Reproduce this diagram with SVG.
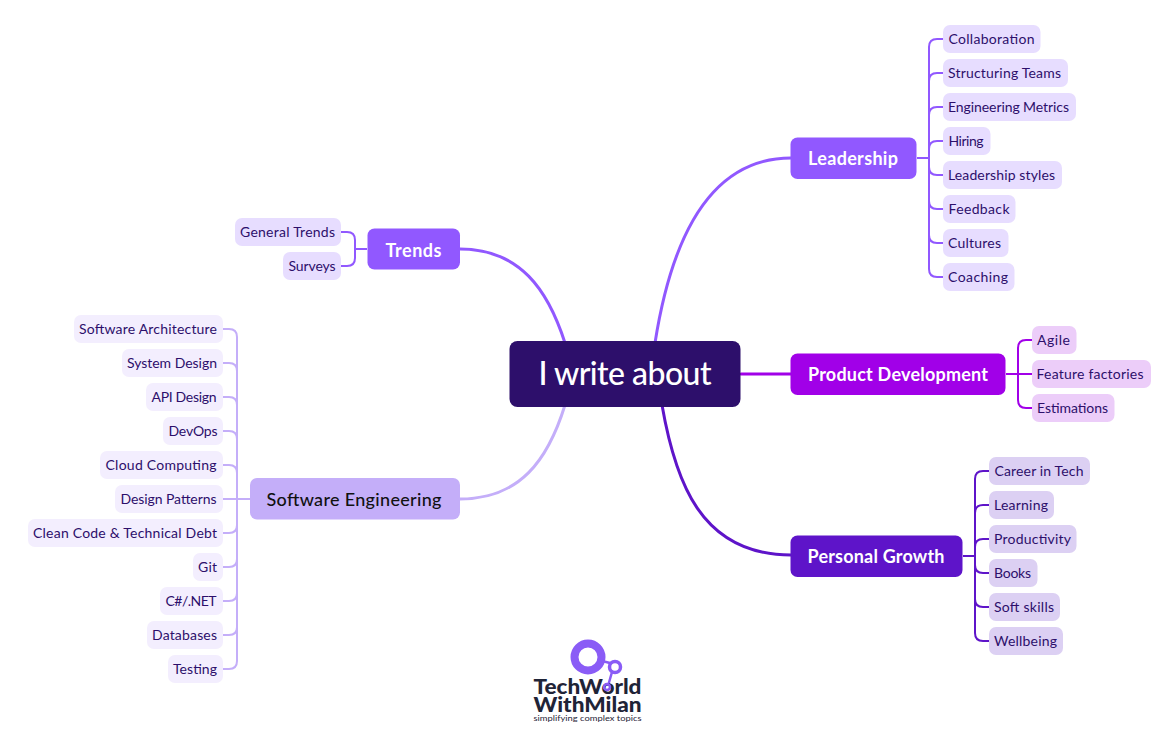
<svg xmlns="http://www.w3.org/2000/svg" width="1174" height="755" viewBox="0 0 1174 755">
<style>
text{font-family:"Lato","Noto Sans",sans-serif;text-anchor:middle;dominant-baseline:central}
.c{fill:none;stroke-width:3;stroke-linecap:round}
.c2{fill:none;stroke-width:2}
.leaf{font-size:14px;fill:#2d0f6b}
.main{font-size:18px;font-weight:700;fill:#fff}
.p{stroke:#9158ff}.m{stroke:#a100e8}.d{stroke:#5e14c9}.l{stroke:#c4aef9}
.fp{fill:#e7ddff}.fm{fill:#eccdf9}.fd{fill:#dcd0f3}.fl{fill:#f3eefe}
</style>
<rect width="1174" height="755" fill="#fff"/>
<g id="connectors">
<path class="c p" d="M655 343C668 260 700 158 791 158"/>
<path class="c m" d="M741 374H791"/>
<path class="c d" d="M662 405C675 480 700 555 791 555"/>
<path class="c p" d="M565 343C548 290 520 249 460 249"/>
<path class="c l" d="M565 405C548 460 520 499 460 499"/>
<g class="c2 p"><path d="M917 158H929M943 39H937Q929 39 929 47V269Q929 277 937 277H943M943 73H937Q929 73 929 81M943 107H937Q929 107 929 115M943 141H937Q929 141 929 149M943 175H937Q929 175 929 167M943 209H937Q929 209 929 201M943 243H937Q929 243 929 235"/></g>
<g class="c2 m"><path d="M1006 374H1018M1032 340H1026Q1018 340 1018 348V400Q1018 408 1026 408H1032M1018 374H1032"/></g>
<g class="c2 d"><path d="M963 556H975M989 471H983Q975 471 975 479V633Q975 641 983 641H989M989 505H983Q975 505 975 513M989 539H983Q975 539 975 547M989 573H983Q975 573 975 565M989 607H983Q975 607 975 599"/></g>
<g class="c2 p"><path d="M367 249H355M341 232H347Q355 232 355 240V258Q355 266 347 266H341"/></g>
<g class="c2 l"><path d="M250 499H223M223 329H229Q237 329 237 337V661Q237 669 229 669H223M223 363H229Q237 363 237 371M223 397H229Q237 397 237 405M223 431H229Q237 431 237 439M223 465H229Q237 465 237 473M223 533H229Q237 533 237 525M223 567H229Q237 567 237 559M223 601H229Q237 601 237 593M223 635H229Q237 635 237 627"/></g>
</g>
<g id="root"><rect x="509.500" y="341" width="231" height="66" rx="8" fill="#2d0f6b"/><text x="625" y="372" font-size="32" font-weight="500" fill="#fff" textLength="173">I write about</text></g>
<g id="leadership"><rect x="790.500" y="137.500" width="126" height="41.500" rx="7" fill="#9158ff"/><text class="main" x="853" y="158" textLength="90">Leadership</text></g>
<g id="trends"><rect x="367.500" y="228.500" width="92.500" height="41" rx="7" fill="#9158ff"/><text class="main" x="413.500" y="249.500" textLength="56">Trends</text></g>
<g id="product"><rect x="790.500" y="353.500" width="215" height="41.500" rx="7" fill="#a100e8"/><text class="main" x="898" y="374" textLength="180">Product Development</text></g>
<g id="growth"><rect x="790.500" y="535.500" width="172" height="41.500" rx="7" fill="#5e14c9"/><text class="main" x="876" y="556" textLength="137">Personal Growth</text></g>
<g id="software"><rect x="250" y="478" width="210" height="41.500" rx="7" fill="#c4aef9"/><text x="354" y="499" font-size="18" font-weight="500" fill="#111" textLength="175">Software Engineering</text></g>

<g id="l1"><rect class="fp" x="943" y="25" width="97.500" height="28" rx="7"/><text class="leaf" x="991.500" y="38" textLength="86">Collaboration</text></g>
<g id="l2"><rect class="fp" x="943" y="59" width="125" height="28" rx="7"/><text class="leaf" x="1004.500" y="72" textLength="113">Structuring Teams</text></g>
<g id="l3"><rect class="fp" x="943" y="93" width="133" height="28" rx="7"/><text class="leaf" x="1008.500" y="106" textLength="121">Engineering Metrics</text></g>
<g id="l4"><rect class="fp" x="943" y="127" width="47.500" height="28" rx="7"/><text class="leaf" x="966" y="140" textLength="35">Hiring</text></g>
<g id="l5"><rect class="fp" x="943" y="161" width="119" height="28" rx="7"/><text class="leaf" x="1001.500" y="174" textLength="107">Leadership styles</text></g>
<g id="l6"><rect class="fp" x="943" y="195" width="72.500" height="28" rx="7"/><text class="leaf" x="979" y="208" textLength="61">Feedback</text></g>
<g id="l7"><rect class="fp" x="943" y="229" width="65.500" height="28" rx="7"/><text class="leaf" x="974.500" y="242" textLength="53">Cultures</text></g>
<g id="l8"><rect class="fp" x="943" y="263" width="71.500" height="28" rx="7"/><text class="leaf" x="978" y="276" textLength="60">Coaching</text></g>

<g id="p1"><rect class="fm" x="1032" y="326" width="44.500" height="28" rx="7"/><text class="leaf" x="1053.500" y="339" textLength="33">Agile</text></g>
<g id="p2"><rect class="fm" x="1032" y="360" width="119" height="28" rx="7"/><text class="leaf" x="1090" y="373" textLength="107">Feature factories</text></g>
<g id="p3"><rect class="fm" x="1032" y="394" width="82.500" height="28" rx="7"/><text class="leaf" x="1072.500" y="407" textLength="71">Estimations</text></g>

<g id="g1"><rect class="fd" x="989" y="457" width="101" height="28" rx="7"/><text class="leaf" x="1039" y="470" textLength="89">Career in Tech</text></g>
<g id="g2"><rect class="fd" x="989" y="491" width="65" height="28" rx="7"/><text class="leaf" x="1021" y="504" textLength="54">Learning</text></g>
<g id="g3"><rect class="fd" x="989" y="525" width="87.500" height="28" rx="7"/><text class="leaf" x="1032.500" y="538" textLength="77">Productivity</text></g>
<g id="g4"><rect class="fd" x="989" y="559" width="48.500" height="28" rx="7"/><text class="leaf" x="1012.500" y="572" textLength="37">Books</text></g>
<g id="g5"><rect class="fd" x="989" y="593" width="71" height="28" rx="7"/><text class="leaf" x="1024" y="606" textLength="60">Soft skills</text></g>
<g id="g6"><rect class="fd" x="989" y="627" width="74" height="28" rx="7"/><text class="leaf" x="1025.500" y="640" textLength="63">Wellbeing</text></g>

<g id="t1"><rect class="fp" x="235" y="218" width="106" height="28" rx="7"/><text class="leaf" x="287.500" y="231" textLength="95">General Trends</text></g>
<g id="t2"><rect class="fp" x="283" y="252" width="58" height="28" rx="7"/><text class="leaf" x="312" y="265" textLength="47">Surveys</text></g>

<g id="s1"><rect class="fl" x="74" y="315" width="149" height="28" rx="7"/><text class="leaf" x="148" y="328" textLength="138">Software Architecture</text></g>
<g id="s2"><rect class="fl" x="122" y="349" width="101" height="28" rx="7"/><text class="leaf" x="172" y="362" textLength="90">System Design</text></g>
<g id="s3"><rect class="fl" x="146" y="383" width="77" height="28" rx="7"/><text class="leaf" x="184" y="396" textLength="65">API Design</text></g>
<g id="s4"><rect class="fl" x="163" y="417" width="60" height="28" rx="7"/><text class="leaf" x="193" y="430" textLength="49">DevOps</text></g>
<g id="s5"><rect class="fl" x="100" y="451" width="123" height="28" rx="7"/><text class="leaf" x="161" y="464" textLength="111">Cloud Computing</text></g>
<g id="s6"><rect class="fl" x="115" y="485" width="108" height="28" rx="7"/><text class="leaf" x="168.500" y="498" textLength="96">Design Patterns</text></g>
<g id="s7"><rect class="fl" x="28" y="519" width="195" height="28" rx="7"/><text class="leaf" x="125" y="532" textLength="184">Clean Code &amp; Technical Debt</text></g>
<g id="s8"><rect class="fl" x="193" y="553" width="30" height="28" rx="7"/><text class="leaf" x="207.500" y="566" textLength="19">Git</text></g>
<g id="s9"><rect class="fl" x="160" y="587" width="63" height="28" rx="7"/><text class="leaf" x="191" y="600" textLength="51">C#/.NET</text></g>
<g id="s10"><rect class="fl" x="147" y="621" width="76" height="28" rx="7"/><text class="leaf" x="184.500" y="634" textLength="65">Databases</text></g>
<g id="s11"><rect class="fl" x="168" y="655" width="55" height="28" rx="7"/><text class="leaf" x="195" y="668" textLength="44">Testing</text></g>

<g id="logo">
<circle cx="588" cy="657" r="13.500" fill="none" stroke="#8a5cf6" stroke-width="8"/>
<circle cx="615" cy="667" r="5.500" fill="none" stroke="#8a5cf6" stroke-width="3.500"/>
<path d="M602 661L610 663M612 672L608 686" fill="none" stroke="#8a5cf6" stroke-width="2.500"/>
<text x="587.500" y="685.500" font-size="20" font-weight="900" fill="#1f2437" textLength="108" lengthAdjust="spacingAndGlyphs">TechWorld</text>
<text x="587.500" y="704" font-size="20" font-weight="900" fill="#1f2437" textLength="108" lengthAdjust="spacingAndGlyphs">WithMilan</text>
<text x="587.500" y="718" font-size="8" fill="#1f2437" textLength="108" lengthAdjust="spacingAndGlyphs">simplifying complex topics</text>
<circle cx="607" cy="687" r="3" fill="none" stroke="#8a5cf6" stroke-width="2.500"/>
</g>
</svg>
